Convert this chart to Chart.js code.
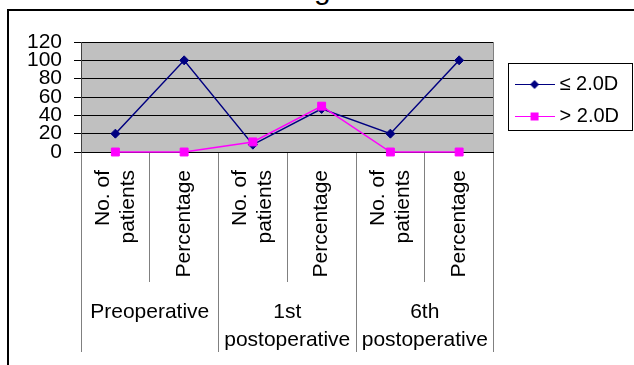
<!DOCTYPE html>
<html>
<head>
<meta charset="utf-8">
<script src="https://cdn.jsdelivr.net/npm/chart.js@4/dist/chart.umd.min.js"></script>
<style>
  html, body { margin: 0; padding: 0; background: #fff; overflow: hidden; }
  #wrap { position: relative; width: 634px; height: 365px; overflow: hidden; }
  #frame { position: absolute; left: 7px; top: 9px; width: 700px; height: 420px;
           border: 2px solid #000; box-sizing: border-box; }
  #heading { position: absolute; left: 314px; top: -26px; font: 30px/30px 'Liberation Sans', Arial, sans-serif; color: #000; }
  canvas { position: absolute; left: 0; top: 0; }
</style>
</head>
<body>
<div id="wrap">
  <div id="frame"></div>
  <div id="heading">g</div>
  <canvas id="chart" width="634" height="365"></canvas>
</div>
<script>
// Follow-up periods (outer category row)
const periods = ['Preoperative', ['1st', 'postoperative'], ['6th', 'postoperative']];
// Inner category row: each period split into its measures
const categories = [
  ['No. of', 'patients'], 'Percentage',
  ['No. of', 'patients'], 'Percentage',
  ['No. of', 'patients'], 'Percentage'
];
// Series values
const seriesNames = ['\u2264 2.0D', '> 2.0D'];
const lowCylinder = [20, 100, 8, 47, 20, 100];
const highCylinder = [0, 0, 11, 50, 0, 0];
// Value axis ticks
const yTicks = [0, 20, 40, 60, 80, 100, 120];

const FONT = "'Liberation Sans', Arial, sans-serif";
const NAVY = '#000080';
const MAGENTA = '#FF00FF';
const RIGHT_GAP = 5;

Chart.defaults.font.family = FONT;
Chart.defaults.color = '#000';

// Line-plus-marker swatch used in the legend
function swatch(color, shape) {
  const c = document.createElement('canvas');
  c.width = 40; c.height = 14;
  const g = c.getContext('2d');
  g.strokeStyle = color; g.fillStyle = color; g.lineWidth = 1;
  g.beginPath(); g.moveTo(0, 7.5); g.lineTo(40, 7.5); g.stroke();
  g.beginPath();
  if (shape === 'diamond') {
    g.moveTo(20, 3); g.lineTo(24.5, 7.5); g.lineTo(20, 12); g.lineTo(15.5, 7.5); g.closePath();
  } else {
    g.rect(16, 3.5, 8, 8);
  }
  g.fill();
  return c;
}
const swatches = [swatch(NAVY, 'diamond'), swatch(MAGENTA, 'square')];

// Grey plot background and its right-hand edge
const plotBackground = {
  id: 'plotBackground',
  beforeDraw(chart) {
    const { ctx, chartArea: a } = chart;
    ctx.save();
    ctx.fillStyle = '#C0C0C0';
    ctx.fillRect(a.left, a.top, a.right - a.left, a.bottom - a.top);
    ctx.restore();
  },
  beforeDatasetsDraw(chart) {
    const { ctx, chartArea: a } = chart;
    const x = Math.round(a.right) - 0.5;
    ctx.save();
    ctx.strokeStyle = '#808080';
    ctx.lineWidth = 1;
    ctx.beginPath(); ctx.moveTo(x, a.top); ctx.lineTo(x, a.bottom); ctx.stroke();
    ctx.restore();
  }
};

// Box round the legend entries
const legendFrame = {
  id: 'legendFrame',
  afterDraw(chart) {
    const lg = chart.legend;
    const hb = lg && lg.legendHitBoxes;
    if (!hb || !hb.length) return;
    const last = hb[hb.length - 1];
    const top = Math.round(hb[0].top - 11);
    const bottom = Math.round(last.top + last.height + 4);
    const left = Math.round(lg.left);
    const right = Math.round(chart.width - 2);
    const ctx = chart.ctx;
    ctx.save();
    ctx.strokeStyle = '#000';
    ctx.lineWidth = 1;
    ctx.strokeRect(left + 0.5, top + 0.5, right - left, bottom - top);
    ctx.restore();
  }
};

new Chart(document.getElementById('chart'), {
  type: 'line',
  data: {
    labels: categories,
    datasets: [
      {
        label: seriesNames[0],
        data: lowCylinder,
        borderColor: NAVY,
        backgroundColor: NAVY,
        borderWidth: 1.5,
        pointStyle: 'rectRot',
        pointRadius: 4.5,
        pointBorderWidth: 1,
        tension: 0,
        clip: false,
        order: 1
      },
      {
        label: seriesNames[1],
        data: highCylinder,
        borderColor: MAGENTA,
        backgroundColor: MAGENTA,
        borderWidth: 1.5,
        pointStyle: 'rect',
        pointRadius: 5.6,
        pointBorderWidth: 1,
        tension: 0,
        clip: false,
        order: 0
      }
    ]
  },
  options: {
    responsive: false,
    animation: false,
    devicePixelRatio: 1,
    layout: { padding: { top: 42, left: 0, right: RIGHT_GAP, bottom: 0 } },
    plugins: {
      tooltip: { enabled: false },
      legend: {
        position: 'right',
        align: 'start',
        title: { display: true, text: '', font: { size: 10 }, padding: { top: 0, bottom: 8 } },
        labels: {
          usePointStyle: true,
          pointStyleWidth: 30,
          padding: 12,
          color: '#000',
          font: { size: 20, family: FONT },
          sort: (a, b) => a.datasetIndex - b.datasetIndex,
          generateLabels(chart) {
            const items = Chart.defaults.plugins.legend.labels.generateLabels(chart);
            items.forEach(it => { it.pointStyle = swatches[it.datasetIndex]; });
            return items;
          }
        }
      }
    },
    scales: {
      x: {
        type: 'category',
        position: 'bottom',
        weight: 0,
        offset: true,
        grid: { offset: true, drawOnChartArea: false, tickLength: 130, color: '#808080', lineWidth: 1 },
        border: { display: true, color: '#000', width: 1 },
        ticks: {
          autoSkip: false,
          minRotation: 90,
          maxRotation: 90,
          padding: -112,
          labelOffset: -12.5,
          color: '#000',
          font: { size: 21, family: FONT, lineHeight: '12.5px' },
          // two-line labels are spread round the tick, one-line labels sit on it
          callback(value) {
            const l = this.getLabelForValue(value);
            const lines = Array.isArray(l) ? l : String(l).split(',');
            return lines.length > 1 ? [lines[0], '', lines[1]] : ['', lines[0]];
          }
        },
        afterFit(s) { s.height = 130; }
      },
      x2: {
        type: 'category',
        labels: periods,
        position: 'bottom',
        weight: 1,
        offset: true,
        grid: { offset: true, drawOnChartArea: false, tickLength: 70, color: '#808080', lineWidth: 1 },
        border: { display: false },
        ticks: {
          autoSkip: false,
          minRotation: 0,
          maxRotation: 0,
          padding: -53,
          color: '#000',
          font: { size: 21, family: FONT, lineHeight: 1.3 }
        },
        afterFit(s) { s.height = 83; }
      },
      y: {
        type: 'linear',
        position: 'left',
        min: yTicks[0],
        max: yTicks[yTicks.length - 1],
        afterBuildTicks(s) { s.ticks = yTicks.map(v => ({ value: v })); },
        grid: { color: '#000', lineWidth: 1, tickLength: 7 },
        border: { display: true, color: '#404040', width: 1 },
        ticks: { autoSkip: false, padding: 12, color: '#000', font: { size: 21, family: FONT } },
        afterFit(s) { s.width = 81; }
      },
      // empty spacer between the plot and the legend
      gap: {
        type: 'linear',
        position: 'right',
        display: false,
        afterFit(s) { s.width = 14; }
      }
    }
  },
  plugins: [plotBackground, legendFrame]
});
</script>
</body>
</html>
